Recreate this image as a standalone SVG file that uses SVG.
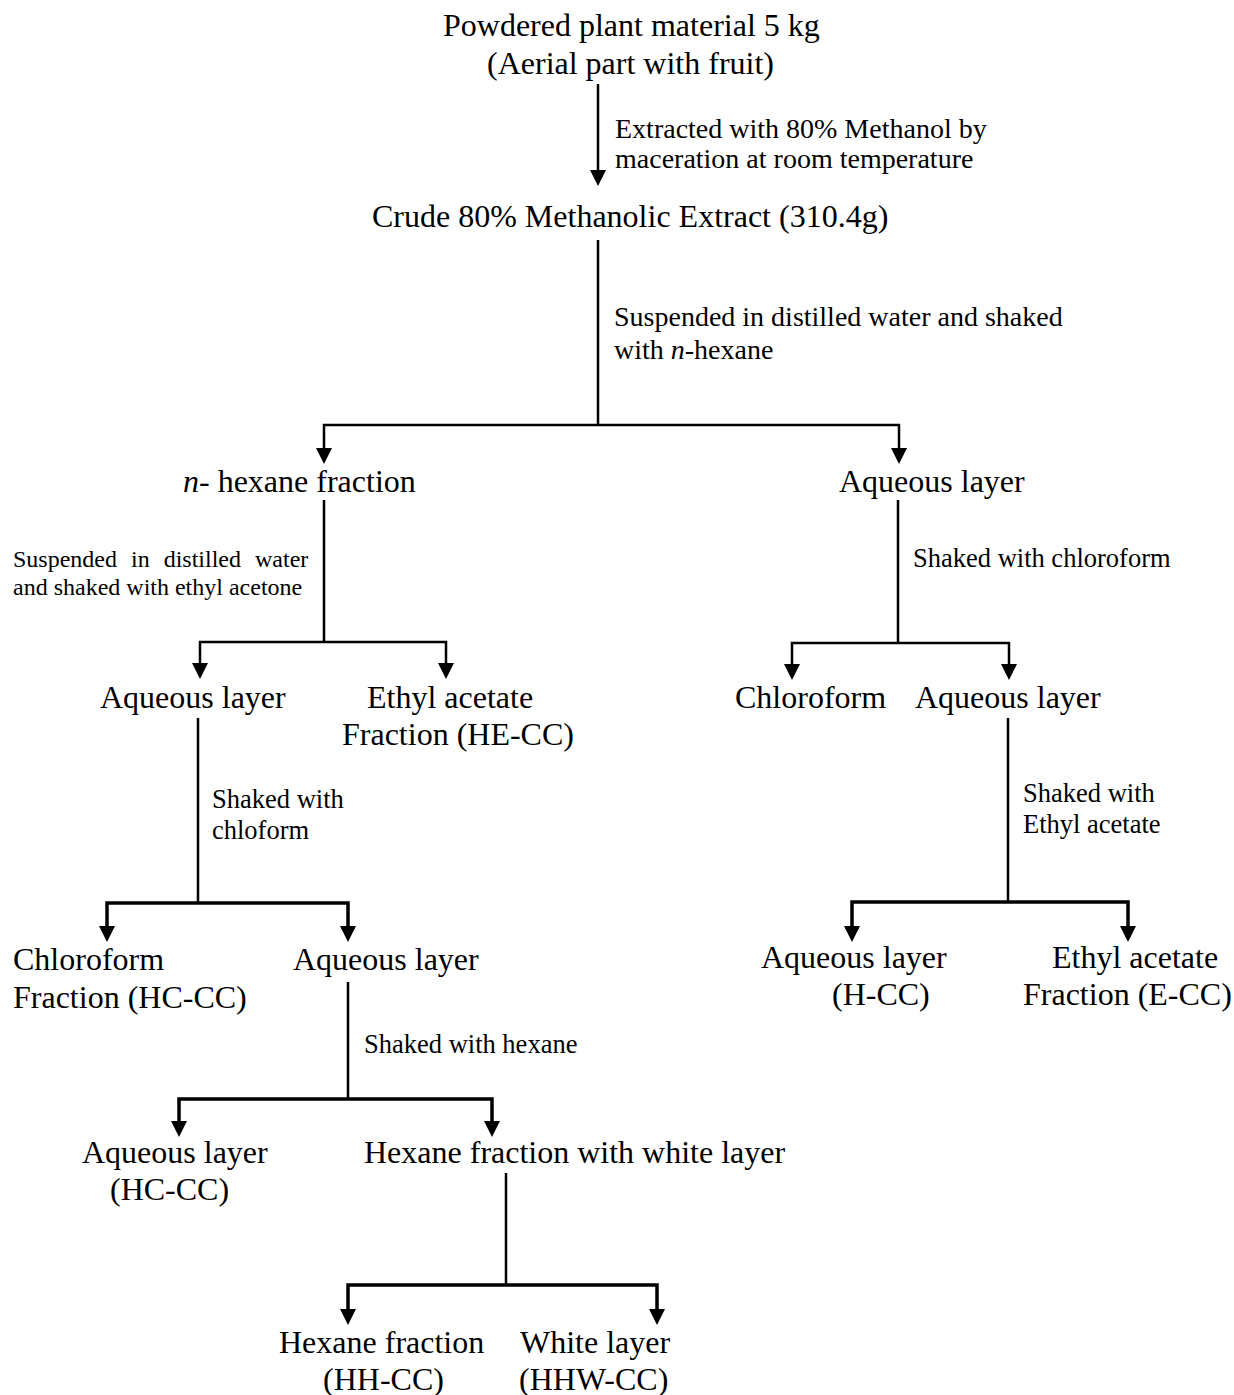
<svg xmlns="http://www.w3.org/2000/svg" width="1234" height="1395" viewBox="0 0 1234 1395">
<style>
text { font-family: "Liberation Serif", "Times New Roman", serif; fill: #000; }
.n { font-size: 32px; }
.l { font-size: 28px; }
.s { font-size: 26.5px; }
.xs { font-size: 24px; }
.c { fill: none; stroke: #000; stroke-width: 2.5; }
.t { fill: none; stroke: #000; stroke-width: 3.5; }
</style>
<defs>
<marker id="ah" markerUnits="userSpaceOnUse" viewBox="0 0 16 16" refX="10" refY="8" markerWidth="16" markerHeight="16" orient="auto-start-reverse">
<path d="M0,0 L16,8 L0,16 z" fill="#000"/>
</marker>
</defs>
<rect width="1234" height="1395" fill="#fff"/>
<g id="connectors">
<path class="c" d="M598,84 V180" marker-end="url(#ah)"/>
<path class="c" d="M598,240 V425"/>
<path class="c" d="M324,458 V425 H899 V458" marker-start="url(#ah)" marker-end="url(#ah)"/>
<path class="c" d="M324,500 V642"/>
<path class="c" d="M200,673 V642 H446 V673" marker-start="url(#ah)" marker-end="url(#ah)"/>
<path class="c" d="M898,500 V643"/>
<path class="c" d="M792,674 V643 H1009 V674" marker-start="url(#ah)" marker-end="url(#ah)"/>
<path class="c" d="M198,718 V903"/>
<path class="t" d="M107,936 V903 H348 V936" marker-start="url(#ah)" marker-end="url(#ah)"/>
<path class="c" d="M1008,718 V902"/>
<path class="t" d="M852,936 V902 H1128 V936" marker-start="url(#ah)" marker-end="url(#ah)"/>
<path class="c" d="M348,982 V1099"/>
<path class="t" d="M179,1131 V1099 H492 V1131" marker-start="url(#ah)" marker-end="url(#ah)"/>
<path class="c" d="M506,1173 V1285"/>
<path class="t" d="M348,1319 V1285 H657 V1319" marker-start="url(#ah)" marker-end="url(#ah)"/>
</g>
<g id="step-labels">
<text class="l" x="615" y="138">Extracted with 80% Methanol by</text>
<text class="l" x="615" y="168">maceration at room temperature</text>
<text class="l" x="614" y="326">Suspended in distilled water and shaked</text>
<text class="l" x="614" y="359">with <tspan font-style="italic">n</tspan>-hexane</text>
<text class="xs" x="13" y="567" word-spacing="8">Suspended in distilled water</text>
<text class="xs" x="13" y="595">and shaked with ethyl acetone</text>
<text class="s" x="913" y="567">Shaked with chloroform</text>
<text class="s" x="212" y="808">Shaked with</text>
<text class="s" x="212" y="839">chloform</text>
<text class="s" x="1023" y="802">Shaked with</text>
<text class="s" x="1023" y="833">Ethyl acetate</text>
<text class="s" x="364" y="1053">Shaked with hexane</text>
</g>
<g id="node-plant"><text class="n" x="443" y="36">Powdered plant material 5 kg</text><text class="n" x="487" y="74">(Aerial part with fruit)</text></g>
<g id="node-crude"><text class="n" x="372" y="227">Crude 80% Methanolic Extract (310.4g)</text></g>
<g id="node-hexane"><text class="n" x="183" y="492"><tspan font-style="italic">n</tspan>- hexane fraction</text></g>
<g id="node-aq1"><text class="n" x="839" y="492">Aqueous layer</text></g>
<g id="node-aq2"><text class="n" x="100" y="708">Aqueous layer</text></g>
<g id="node-he"><text class="n" x="367" y="708">Ethyl acetate</text><text class="n" x="342" y="745">Fraction (HE-CC)</text></g>
<g id="node-chl"><text class="n" x="735" y="708">Chloroform</text></g>
<g id="node-aq3"><text class="n" x="915" y="708">Aqueous layer</text></g>
<g id="node-hc"><text class="n" x="13" y="970">Chloroform</text><text class="n" x="13" y="1008">Fraction (HC-CC)</text></g>
<g id="node-aq4"><text class="n" x="293" y="970">Aqueous layer</text></g>
<g id="node-h"><text class="n" x="761" y="968">Aqueous layer</text><text class="n" x="832" y="1005">(H-CC)</text></g>
<g id="node-e"><text class="n" x="1052" y="968">Ethyl acetate</text><text class="n" x="1023" y="1005">Fraction (E-CC)</text></g>
<g id="node-aq5"><text class="n" x="82" y="1163">Aqueous layer</text><text class="n" x="110" y="1200">(HC-CC)</text></g>
<g id="node-hw"><text class="n" x="364" y="1163">Hexane fraction with white layer</text></g>
<g id="node-hh"><text class="n" x="279" y="1353">Hexane fraction</text><text class="n" x="323" y="1390">(HH-CC)</text></g>
<g id="node-hhw"><text class="n" x="520" y="1353">White layer</text><text class="n" x="519" y="1390">(HHW-CC)</text></g>
</svg>
